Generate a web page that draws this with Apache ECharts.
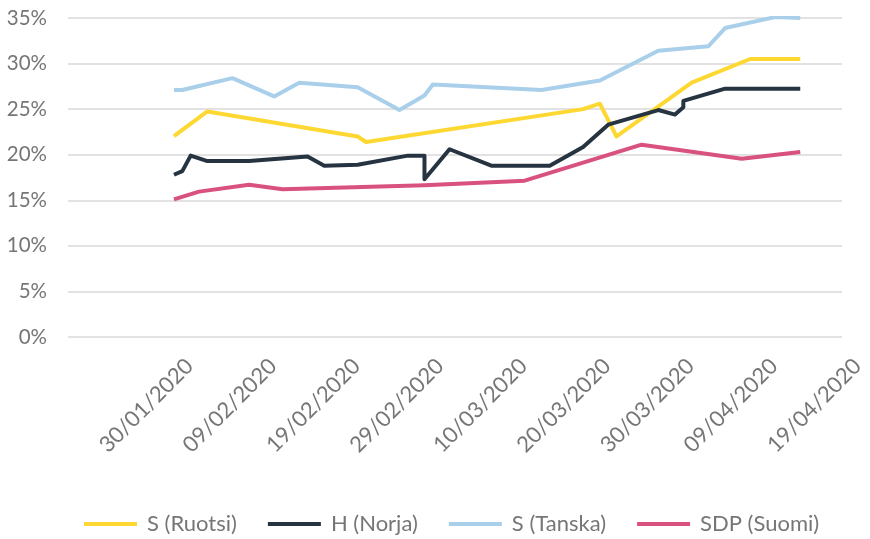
<!DOCTYPE html>
<html>
<head>
<meta charset="utf-8">
<script src="https://cdn.jsdelivr.net/npm/echarts@6.0.0/dist/echarts.min.js"></script>
<style>
  html, body { margin: 0; padding: 0; background: #fff; }
  #chart { width: 870px; height: 539px; }
</style>
</head>
<body>
<div id="chart"></div>
<script>
// kannatus (%) eri päivinä
const tickLabels = ['30/01/2020', '09/02/2020', '19/02/2020', '29/02/2020', '10/03/2020',
  '20/03/2020', '30/03/2020', '09/04/2020', '19/04/2020'];

const ruotsiDates = ['2020-01-30', '2020-02-03', '2020-02-21', '2020-02-22', '2020-03-19',
  '2020-03-21', '2020-03-23', '2020-04-01', '2020-04-08', '2020-04-14'];
const ruotsiValues = [22.05, 24.75, 22.0, 21.4, 25.0, 25.6, 22.0, 27.9, 30.5, 30.5];

const norjaDates = ['2020-01-30', '2020-01-31', '2020-02-01', '2020-02-03', '2020-02-08',
  '2020-02-15', '2020-02-17', '2020-02-21', '2020-02-27', '2020-02-29', '2020-02-29',
  '2020-03-03', '2020-03-08', '2020-03-15', '2020-03-19', '2020-03-22', '2020-03-28',
  '2020-03-30', '2020-03-31', '2020-03-31', '2020-04-05', '2020-04-14'];
const norjaValues = [17.8, 18.2, 19.9, 19.3, 19.3, 19.8, 18.8, 18.9, 19.9, 19.9, 17.3,
  20.6, 18.8, 18.8, 20.85, 23.3, 24.9, 24.4, 25.2, 25.9, 27.25, 27.25];

const tanskaDates = ['2020-01-30', '2020-01-31', '2020-02-06', '2020-02-11', '2020-02-14',
  '2020-02-21', '2020-02-26', '2020-02-29', '2020-03-01', '2020-03-14', '2020-03-21',
  '2020-03-28', '2020-04-03', '2020-04-05', '2020-04-11', '2020-04-14'];
const tanskaValues = [27.1, 27.1, 28.4, 26.4, 27.9, 27.4, 24.9, 26.5, 27.7, 27.1, 28.15,
  31.4, 31.9, 33.9, 35.1, 35.0];

const suomiDates = ['2020-01-30', '2020-02-02', '2020-02-08', '2020-02-12', '2020-02-29',
  '2020-03-12', '2020-03-26', '2020-04-07', '2020-04-14'];
const suomiValues = [15.1, 15.95, 16.7, 16.2, 16.65, 17.15, 21.1, 19.55, 20.3];

const DAY = 86400000;
function isoDay(s) {
  const [y, m, d] = s.split('-').map(Number);
  return Date.UTC(y, m - 1, d) / DAY;
}
function labelDay(s) {
  const [d, m, y] = s.split('/').map(Number);
  return Date.UTC(y, m - 1, d) / DAY;
}
function pairs(dates, values) {
  return dates.map((d, i) => [isoDay(d), values[i]]);
}

const labelByDay = {};
tickLabels.forEach(t => { labelByDay[labelDay(t)] = t; });

const gray = '#767676';
const font = 'Lato, "Open Sans", sans-serif';

function line(name, color, data) {
  return {
    name: name,
    type: 'line',
    data: data,
    symbol: 'none',
    lineStyle: { color: color, width: 4, join: 'round' },
    itemStyle: { color: color }
  };
}

const option = {
  animation: false,
  grid: { left: 68, right: 28, top: 18, bottom: 202 },
  xAxis: {
    type: 'value',
    min: isoDay('2020-01-17') + 0.31,
    max: labelDay('19/04/2020'),
    axisLine: { show: false },
    axisTick: { show: false },
    splitLine: { show: false },
    axisLabel: {
      customValues: tickLabels.map(labelDay),
      formatter: v => labelByDay[Math.round(v)] || '',
      rotate: 45,
      margin: 10,
      verticalAlign: 'top',
      padding: [11, 0, 0, 0],
      color: gray,
      fontFamily: font,
      fontSize: 22
    }
  },
  yAxis: {
    type: 'value',
    min: 0,
    max: 35,
    interval: 5,
    axisLine: { show: false },
    axisTick: { show: false },
    axisLabel: {
      formatter: '{value}%',
      margin: 21,
      color: gray,
      fontFamily: font,
      fontSize: 20.5
    },
    splitLine: { lineStyle: { color: '#d9d9d9', width: 1.5 } }
  },
  legend: {
    top: 508,
    left: 79,
    icon: 'rect',
    itemWidth: 53,
    itemHeight: 4,
    itemGap: 31,
    textStyle: { color: gray, fontFamily: font, fontSize: 22, padding: [0, 0, 0, 5] },
    data: ['S (Ruotsi)', 'H (Norja)', 'S (Tanska)', 'SDP (Suomi)']
  },
  series: [
    line('S (Ruotsi)', '#FED832', pairs(ruotsiDates, ruotsiValues)),
    line('H (Norja)', '#263442', pairs(norjaDates, norjaValues)),
    line('S (Tanska)', '#A9CFEA', pairs(tanskaDates, tanskaValues)),
    line('SDP (Suomi)', '#D9517F', pairs(suomiDates, suomiValues))
  ]
};

const chart = echarts.init(document.getElementById('chart'));
chart.setOption(option);
</script>
</body>
</html>
